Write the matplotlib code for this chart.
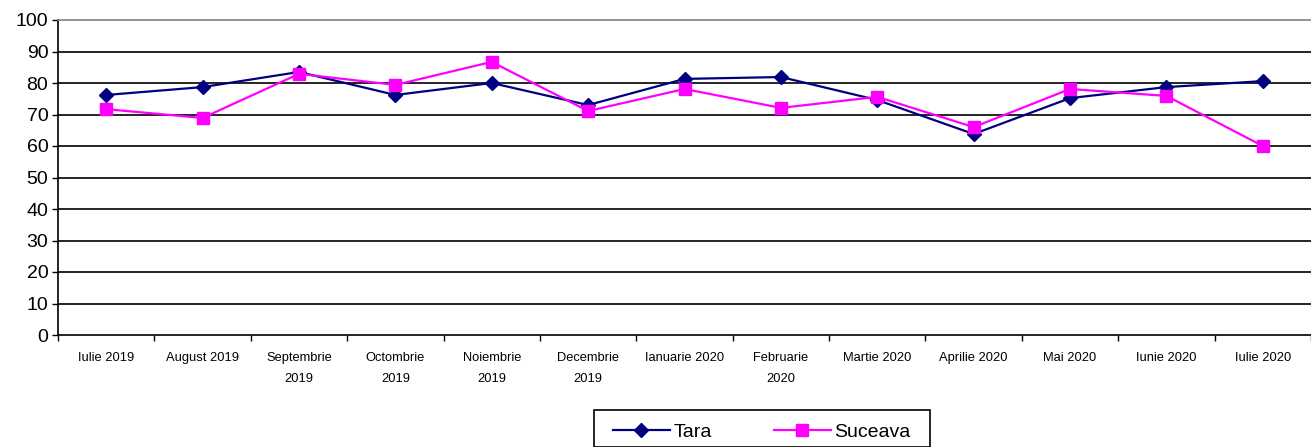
import matplotlib.pyplot as plt
from matplotlib.patches import Rectangle
import numpy as np

plt.rcParams['font.family'] = ['Liberation Sans', 'DejaVu Sans']

months = ['Iulie 2019', 'August 2019', 'Septembrie\n2019', 'Octombrie\n2019',
          'Noiembrie\n2019', 'Decembrie\n2019', 'Ianuarie 2020', 'Februarie\n2020',
          'Martie 2020', 'Aprilie 2020', 'Mai 2020', 'Iunie 2020', 'Iulie 2020']
tara = [76.2, 78.7, 83.5, 76.2, 80.0, 73.0, 81.3, 81.9, 74.6, 63.8, 75.2, 78.7, 80.6]
suceava = [71.7, 68.9, 82.9, 79.4, 86.7, 71.1, 78.1, 72.1, 75.6, 66.0, 78.1, 75.9, 60.0]
y_ticks = list(range(0, 101, 10))

W, H = 1311, 447
fig = plt.figure(figsize=(W / 100, H / 100), dpi=100)
ax = fig.add_axes([58 / W, 1 - 335 / H, 1 - 58 / W, 315 / H])

x = np.arange(len(months))

# horizontal gridlines (black), top one gray as the plot border
for v in y_ticks[1:-1]:
    ax.axhline(v, color='black', lw=1.2, zorder=1)

ax.plot(x, tara, color='#000080', lw=1.6, marker='D', markersize=7.5,
        label='Tara', zorder=3)
ax.plot(x, suceava, color='#FF00FF', lw=1.6, marker='s', markersize=8.5,
        label='Suceava', zorder=3)

ax.set_xlim(-0.5, len(months) - 0.5)
ax.set_ylim(0, 100)
ax.set_yticks(y_ticks)
ax.tick_params(axis='y', labelsize=14, length=4, width=1, direction='out', pad=3)

ax.set_xticks(x)
ax.set_xticklabels(months, fontsize=9.3, linespacing=2.0)
ax.set_xticks(np.arange(-0.5, len(months), 1), minor=True)
ax.tick_params(axis='x', which='major', length=0, pad=12)
ax.tick_params(axis='x', which='minor', length=4, width=1, direction='out')

ax.spines['right'].set_visible(False)
ax.spines['top'].set_color('#808080')
ax.spines['top'].set_linewidth(1.2)
ax.spines['left'].set_linewidth(1.2)
ax.spines['bottom'].set_linewidth(1.2)

# legend box drawn separately (wider than tall padding)
fig.patches.append(Rectangle((594 / W, 0), (930 - 594) / W, 1 - 410 / H,
                             transform=fig.transFigure, fill=False,
                             edgecolor='black', lw=1.2))
fig.legend(loc='center', bbox_to_anchor=(762 / W, 1 - 432 / H),
           ncol=2, fontsize=14, frameon=False,
           handlelength=2.9, handletextpad=0.2, columnspacing=3.2)

fig.savefig('out.png', dpi=100)
